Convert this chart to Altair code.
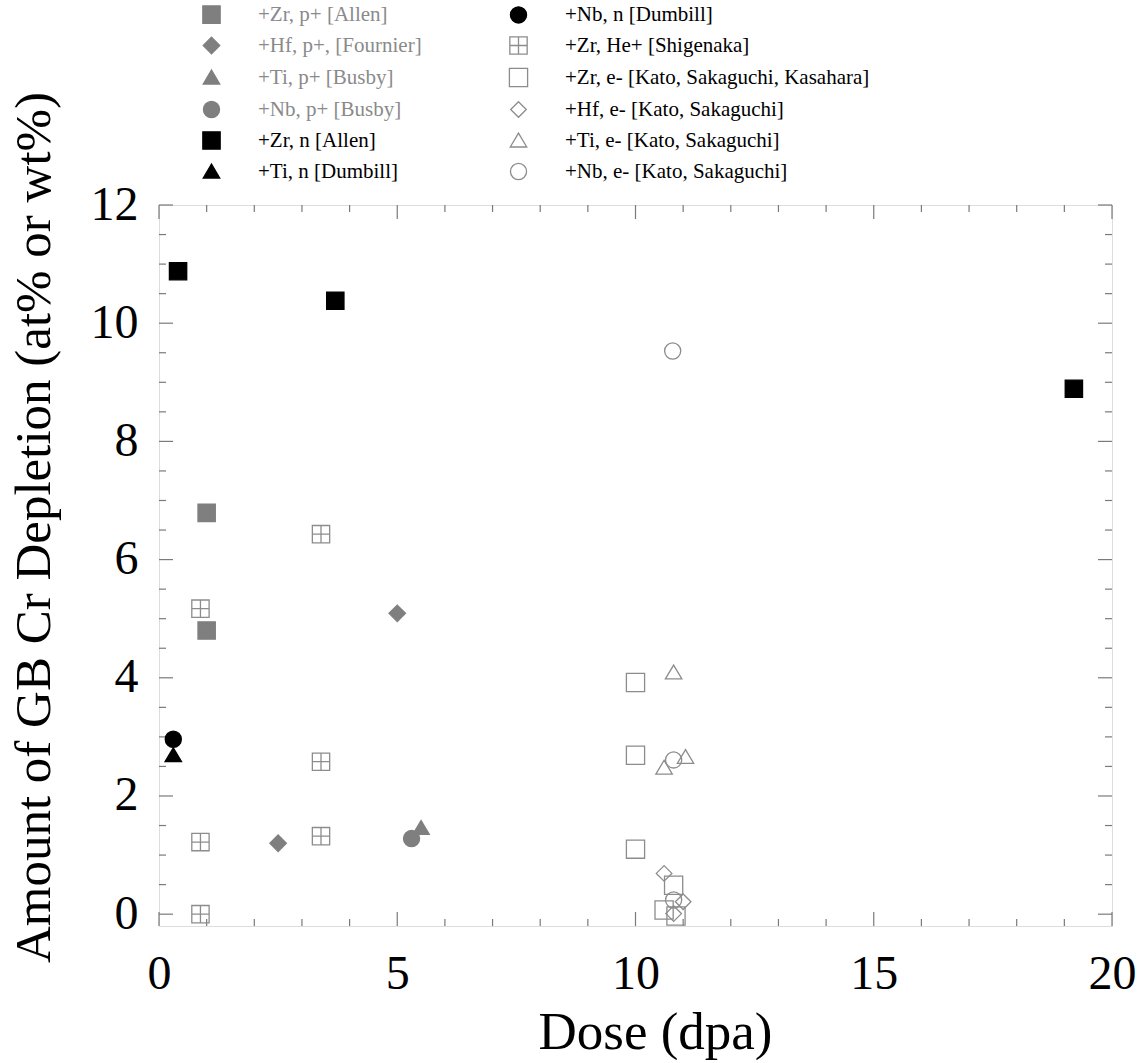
import altair as alt
import pandas as pd

# ---------------- data ----------------
series_names = [
    "+Zr, p+ [Allen]",
    "+Hf, p+, [Fournier]",
    "+Ti, p+ [Busby]",
    "+Nb, p+ [Busby]",
    "+Zr, n [Allen]",
    "+Ti, n [Dumbill]",
    "+Nb, n [Dumbill]",
    "+Zr, He+ [Shigenaka]",
    "+Zr, e- [Kato, Sakaguchi, Kasahara]",
    "+Hf, e- [Kato, Sakaguchi]",
    "+Ti, e- [Kato, Sakaguchi]",
    "+Nb, e- [Kato, Sakaguchi]",
]

zr_p_allen_x = [1.0, 1.0]
zr_p_allen_y = [6.79, 4.80]
hf_p_fournier_x = [5.0, 2.5]
hf_p_fournier_y = [5.09, 1.20]
ti_p_busby_x = [5.5]
ti_p_busby_y = [1.46]
nb_p_busby_x = [5.3]
nb_p_busby_y = [1.28]
zr_n_allen_x = [0.4, 3.7, 19.2]
zr_n_allen_y = [10.88, 10.38, 8.89]
ti_n_dumbill_x = [0.3]
ti_n_dumbill_y = [2.69]
nb_n_dumbill_x = [0.3]
nb_n_dumbill_y = [2.96]
zr_he_shigenaka_x = [0.87, 0.87, 0.87, 3.4, 3.4, 3.4]
zr_he_shigenaka_y = [5.17, 1.22, 0.0, 6.43, 2.58, 1.32]
zr_e_kato_x = [10.0, 10.0, 10.0, 10.8, 10.6, 10.85]
zr_e_kato_y = [3.92, 2.69, 1.10, 0.49, 0.07, -0.03]
hf_e_kato_x = [10.6, 11.0, 10.8]
hf_e_kato_y = [0.69, 0.21, 0.01]
ti_e_kato_x = [10.8, 10.6, 11.05]
ti_e_kato_y = [4.09, 2.48, 2.66]
nb_e_kato_x = [10.78, 10.8, 10.8]
nb_e_kato_y = [9.53, 2.61, 0.24]

series_x = [zr_p_allen_x, hf_p_fournier_x, ti_p_busby_x, nb_p_busby_x, zr_n_allen_x,
            ti_n_dumbill_x, nb_n_dumbill_x, zr_he_shigenaka_x, zr_e_kato_x, hf_e_kato_x,
            ti_e_kato_x, nb_e_kato_x]
series_y = [zr_p_allen_y, hf_p_fournier_y, ti_p_busby_y, nb_p_busby_y, zr_n_allen_y,
            ti_n_dumbill_y, nb_n_dumbill_y, zr_he_shigenaka_y, zr_e_kato_y, hf_e_kato_y,
            ti_e_kato_y, nb_e_kato_y]

x_major_ticks = [0, 5, 10, 15, 20]
x_minor_ticks = [1, 2, 3, 4, 6, 7, 8, 9, 11, 12, 13, 14, 16, 17, 18, 19]
y_major_ticks = [0, 2, 4, 6, 8, 10, 12]
y_minor_ticks = [0.5, 1, 1.5, 2.5, 3, 3.5, 4.5, 5, 5.5, 6.5, 7, 7.5, 8.5, 9, 9.5,
                 10.5, 11, 11.5]

# ---------------- styles ----------------
GRAY = "#7f7f7f"
OPEN = "#8c8c8c"
FRAME = "#7a7a7a"
BLACK = "#000000"
NONE = "transparent"

SQ = "M-1,-1L1,-1L1,1L-1,1Z"
SQ_OPEN = "M-1.05,-1.05L1.05,-1.05L1.05,1.05L-1.05,1.05Z"
SQ_CROSS = "M-1,-1L1,-1L1,1L-1,1Z M0,-1L0,1 M-1,0L1,0"
DIAM = "M0,-0.95L0.95,0L0,0.95L-0.95,0Z"
DIAM_OPEN = "M0,-0.9L0.9,0L0,0.9L-0.9,0Z"
TRI = "M0,-0.85L0.95,0.75L-0.95,0.75Z"
CIRC = "M0.93,0A0.93,0.93,0,1,1,-0.93,0A0.93,0.93,0,1,1,0.93,0"

style = {
    "+Zr, p+ [Allen]": (SQ, GRAY, GRAY),
    "+Hf, p+, [Fournier]": (DIAM, GRAY, GRAY),
    "+Ti, p+ [Busby]": (TRI, GRAY, GRAY),
    "+Nb, p+ [Busby]": (CIRC, GRAY, GRAY),
    "+Zr, n [Allen]": (SQ, BLACK, BLACK),
    "+Ti, n [Dumbill]": (TRI, BLACK, BLACK),
    "+Nb, n [Dumbill]": (CIRC, BLACK, BLACK),
    "+Zr, He+ [Shigenaka]": (SQ_CROSS, NONE, OPEN),
    "+Zr, e- [Kato, Sakaguchi, Kasahara]": (SQ_OPEN, NONE, OPEN),
    "+Hf, e- [Kato, Sakaguchi]": (DIAM_OPEN, NONE, OPEN),
    "+Ti, e- [Kato, Sakaguchi]": (TRI, NONE, OPEN),
    "+Nb, e- [Kato, Sakaguchi]": (CIRC, NONE, OPEN),
}

# Vega fills the 2-column legend column by column
legend_order = series_names

rows = []
for name, xs, ys in zip(series_names, series_x, series_y):
    for xv, yv in zip(xs, ys):
        rows.append({"series": name, "dose": xv, "depl": yv})
df = pd.DataFrame(rows)

W, H = 953, 721
FONT = "Liberation Serif"

xscale = alt.Scale(domain=[0, 20], nice=False, zero=False)
yscale = alt.Scale(domain=[-0.2, 12], nice=False, zero=False)

gray_list = ",".join("'" + s + "'" for s in series_names[:4])
legend = alt.Legend(
    title=None,
    orient="none",
    legendX=42,
    legendY=-201,
    columns=2,
    columnPadding=84,
    rowPadding=8,
    padding=0,
    symbolSize=300,
    symbolStrokeWidth=1.3,
    labelFont=FONT,
    labelFontSize=21,
    labelOffset=36,
    labelLimit=0,
    labelColor=alt.ExprRef(expr="indexof([" + gray_list + "], datum.label) >= 0 ? '#8a8a8a' : '#000000'"),
)

points = alt.Chart(df).mark_point(strokeWidth=1.3, size=300, opacity=1).encode(
    x=alt.X("dose:Q", scale=xscale,
            axis=alt.Axis(values=x_major_ticks, format="d", ticks=False, domain=False,
                          grid=False, labelFont=FONT, labelFontSize=48, labelColor="black",
                          labelPadding=24, labelFlush=False,
                          title="Dose (dpa)", titleFont=FONT, titleFontSize=53,
                          titleFontWeight="normal", titleColor="black",
                          titleX=496, titleY=122, titleBaseline="alphabetic",
                          titleAlign="center")),
    y=alt.Y("depl:Q", scale=yscale,
            axis=alt.Axis(values=y_major_ticks, format="d", ticks=False, domain=False,
                          grid=False, labelFont=FONT, labelFontSize=48, labelColor="black",
                          labelPadding=21, labelFlush=False,
                          title="Amount of GB Cr Depletion (at% or wt%)",
                          titleFont=FONT, titleFontSize=51, titleFontWeight="normal",
                          titleColor="black", titleAngle=-90,
                          titleX=-110, titleY=322, titleBaseline="alphabetic",
                          titleAlign="center")),
    shape=alt.Shape("series:N", scale=alt.Scale(domain=legend_order,
                    range=[style[s][0] for s in legend_order]), legend=legend),
    fill=alt.Fill("series:N", scale=alt.Scale(domain=legend_order,
                  range=[style[s][1] for s in legend_order]), legend=legend),
    stroke=alt.Stroke("series:N", scale=alt.Scale(domain=legend_order,
                      range=[style[s][2] for s in legend_order]), legend=legend),
)

tick_style = dict(color=FRAME, strokeWidth=1.2)

def xticks(vals, length):
    d = pd.DataFrame({"t": vals})
    bottom = alt.Chart(d).mark_rule(**tick_style).encode(
        x=alt.X("t:Q", scale=xscale), y=alt.value(H), y2=alt.value(H - length))
    top = alt.Chart(d).mark_rule(**tick_style).encode(
        x=alt.X("t:Q", scale=xscale), y=alt.value(0), y2=alt.value(length))
    return [bottom, top]

def yticks(vals, length):
    d = pd.DataFrame({"t": vals})
    left = alt.Chart(d).mark_rule(**tick_style).encode(
        y=alt.Y("t:Q", scale=yscale), x=alt.value(0), x2=alt.value(length))
    right = alt.Chart(d).mark_rule(**tick_style).encode(
        y=alt.Y("t:Q", scale=yscale), x=alt.value(W), x2=alt.value(W - length))
    return [left, right]

layers = (xticks(x_major_ticks, 14) + xticks(x_minor_ticks, 7)
          + yticks(y_major_ticks, 14) + yticks(y_minor_ticks, 7) + [points])

chart = alt.layer(*layers).properties(
    width=W, height=H,
    autosize=alt.AutoSizeParams(type="none"),
    padding={"left": 159, "top": 205, "right": 35, "bottom": 137},
).configure_view(stroke=FRAME, strokeWidth=1.4).configure(background="white")

chart.save("out.html", embed_options={"renderer": "svg", "actions": False})
